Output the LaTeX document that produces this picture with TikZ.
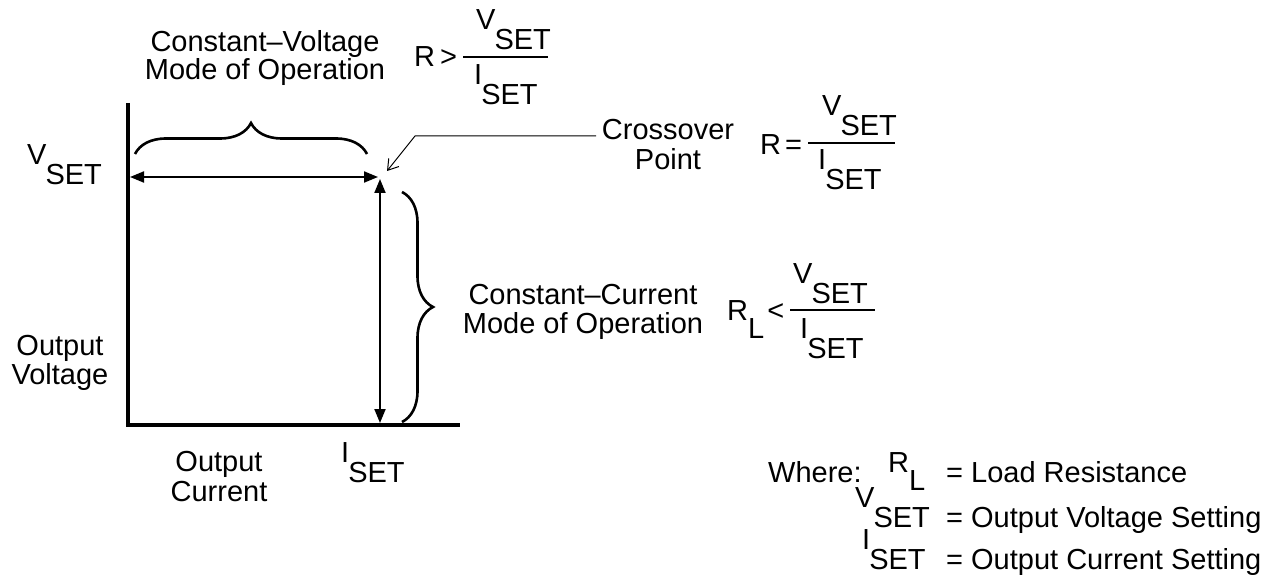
\documentclass[tikz,border=0pt]{standalone}
\usepackage{fontspec}
\setmainfont{Liberation Sans}
\usetikzlibrary{arrows.meta,decorations.pathreplacing}
\newcommand\sbx[2]{#1\kern-1pt\raisebox{-20pt}{#2}}
\begin{document}
\begin{tikzpicture}[x=1pt,y=-1pt,
  txt/.style={font=\fontsize{29}{30}\selectfont, inner sep=0pt, anchor=base},
  txtw/.style={txt, anchor=base west},
  axisline/.style={line width=4pt, line join=miter},
  dimarrow/.style={line width=2pt, {Triangle[length=14pt,width=11pt]}-{Triangle[length=14pt,width=11pt]}},
  bracel/.style={line width=2.6pt, decorate, decoration={brace, amplitude=31pt}},
  fracbar/.style={line width=1.6pt},
  pointer/.style={line width=1pt, -{Straight Barb[length=10pt,width=13pt]}},
]
\useasboundingbox[fill=white] (0,0) rectangle (1267,575);

% axes
\coordinate (ytop) at (128,103);
\coordinate (org) at (128,425);
\coordinate (xend) at (460,425);
\draw[axisline] (ytop) -- (org) -- (xend);

% dimension arrows
\coordinate (hl) at (130,177);
\coordinate (hr) at (378,177);
\coordinate (vt) at (380,179);
\coordinate (vb) at (380,423);
\draw[dimarrow] (hl) -- (hr);
\draw[dimarrow] (vb) -- (vt);

% braces
\coordinate (b1l) at (135,154);
\coordinate (b1r) at (367,154);
\draw[bracel] (b1l) -- (b1r);
\coordinate (b2t) at (402,192);
\coordinate (b2b) at (402,422);
\draw[bracel] (b2t) -- (b2b);

% constant voltage label
\node[txt] (cv1) at (265,52) {Constant–Voltage};
\node[txt] (cv2) at (265,80) {Mode of Operation};
\node[txtw] (rgt) at (414,67) {R\kern5pt>};
\coordinate (f1l) at (463,57);
\coordinate (f1r) at (548,57);
\draw[fracbar] (f1l) -- (f1r);
\node[txtw] (rgtn) at (476,30) {\sbx{V}{SET}};
\node[txtw] (rgtd) at (474,85) {\sbx{I}{SET}};

% crossover
\node[txt] (xo1) at (668,140) {Crossover};
\node[txt] (xo2) at (668,170) {Point};
\coordinate (pstart) at (596,136);
\coordinate (pbend) at (415,136);
\coordinate (ptip) at (387,171);
\draw[pointer] (pstart) -- (pbend) -- (ptip);
\node[txtw] (req) at (760,155) {R\kern4pt=};
\coordinate (f2l) at (808,143);
\coordinate (f2r) at (895,143);
\draw[fracbar] (f2l) -- (f2r);
\node[txtw] (reqn) at (822,116) {\sbx{V}{SET}};
\node[txtw] (reqd) at (818,170) {\sbx{I}{SET}};

% constant current
\node[txt] (cc1) at (583,304) {Constant–Current};
\node[txt] (cc2) at (583,333) {Mode of Operation};
\node[txtw] (rl) at (727,320) {R\raisebox{-18pt}{L}\kern3pt<};
\coordinate (f3l) at (790,310);
\coordinate (f3r) at (875,310);
\draw[fracbar] (f3l) -- (f3r);
\node[txtw] (rln) at (793,283) {\sbx{V}{SET}};
\node[txtw] (rld) at (800,338) {\sbx{I}{SET}};

% axis labels
\node[txtw] (vsetl) at (27,165) {\sbx{V}{SET}};
\node[txt] (ov1) at (60,355) {Output};
\node[txt] (ov2) at (60,384) {Voltage};
\node[txt] (oc1) at (219,471) {Output};
\node[txt] (oc2) at (219,501) {Current};
\node[txtw] (isetl) at (341,462) {\sbx{I}{SET}};

% legend
\node[txtw] (where) at (768,482) {Where:};
\node[txtw] (lk1) at (888,472) {R\raisebox{-18pt}{L}};
\node[txtw] (lv1) at (946,482) {= Load Resistance};
\node[txtw] (lk2) at (855,507) {\sbx{V}{SET}};
\node[txtw] (lv2) at (946,527) {= Output Voltage Setting};
\node[txtw] (lk3) at (862,549) {\sbx{I}{SET}};
\node[txtw] (lv3) at (946,569) {= Output Current Setting};
\end{tikzpicture}
\end{document}
